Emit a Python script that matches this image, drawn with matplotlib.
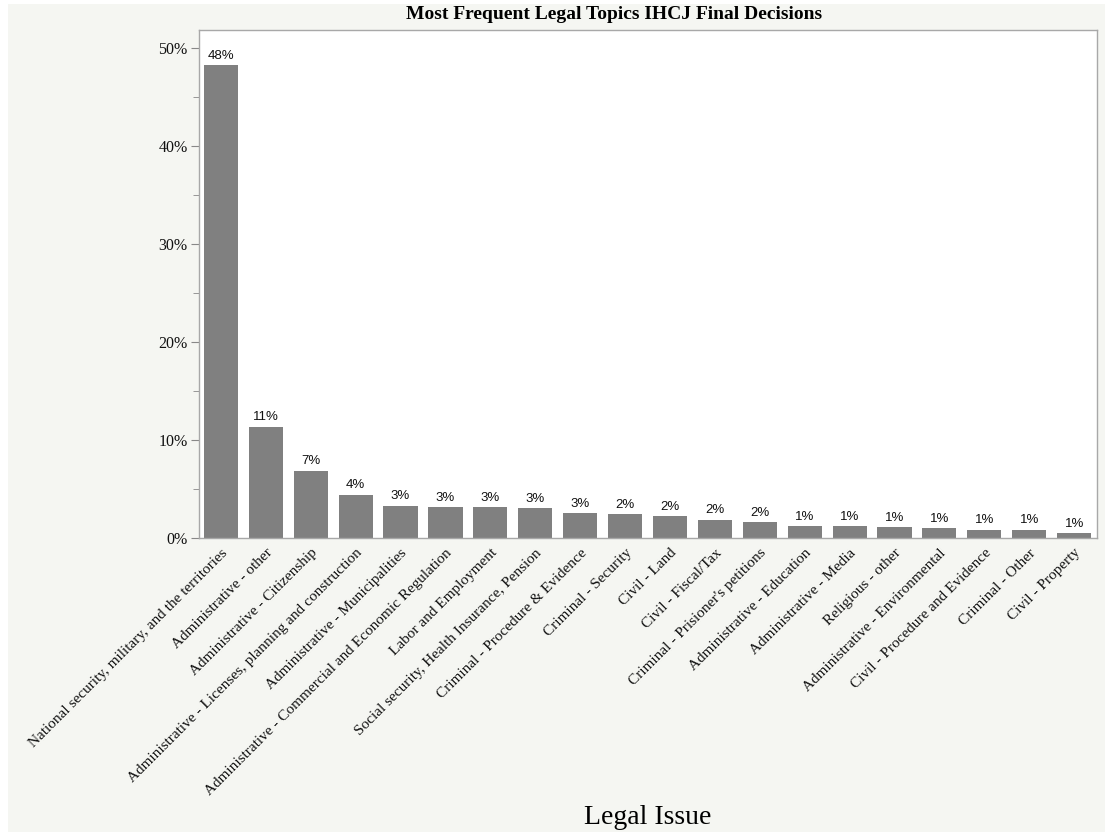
import matplotlib
matplotlib.use("Agg")
import matplotlib.pyplot as plt
import matplotlib.patches as mpatches
from matplotlib.ticker import MultipleLocator, FuncFormatter

# data
issues = [
    "National security, military, and the territories",
    "Administrative - other",
    "Administrative - Citizenship",
    "Administrative - Licenses, planning and construction",
    "Administrative - Municipalities",
    "Administrative - Commercial and Economic Regulation",
    "Labor and Employment",
    "Social security, Health Insurance, Pension",
    "Criminal - Procedure & Evidence",
    "Criminal - Security",
    "Civil - Land",
    "Civil - Fiscal/Tax",
    "Criminal - Prisioner's petitions",
    "Administrative - Education",
    "Administrative - Media",
    "Religious - other",
    "Administrative - Environmental",
    "Civil - Procedure and Evidence",
    "Criminal - Other",
    "Civil - Property",
]
shares = [48.2, 11.35, 6.87, 4.39, 3.27, 3.16, 3.16, 3.06, 2.55, 2.45,
          2.24, 1.84, 1.63, 1.22, 1.22, 1.12, 1.02, 0.82, 0.82, 0.51]

bg = "#f5f6f2"
serif = ["Liberation Serif", "DejaVu Serif"]
sans = ["Liberation Sans", "DejaVu Sans"]

fig = plt.figure(figsize=(11.05, 8.32), dpi=100, facecolor="white")
# light panel behind the graph, thin white margin on left/top
fig.patches.append(mpatches.Rectangle((8 / 1105, 0.0), 1.0, 1 - 4 / 832,
                                      transform=fig.transFigure,
                                      facecolor=bg, edgecolor="none",
                                      zorder=-10))

ax = fig.add_axes([0.180, 0.3534, 0.8128, 0.6105])
ax.set_facecolor("white")

x = range(len(issues))
ax.bar(x, shares, width=0.76, color="#808080", zorder=2)

for xi, v in zip(x, shares):
    ax.text(xi, v + 0.35, f"{round(v):.0f}%", ha="center", va="bottom",
            fontsize=9.5, family=sans, color="#111111")

ax.set_xlim(-0.49, 19.51)
ax.set_ylim(0, 51.8)
ax.yaxis.set_major_locator(MultipleLocator(10))
ax.yaxis.set_minor_locator(MultipleLocator(5))
ax.yaxis.set_major_formatter(FuncFormatter(lambda v, p: f"{v:.0f}%"))
ax.tick_params(axis="y", which="major", length=6, color="#888888",
               labelsize=11.5, labelcolor="#111111", pad=2)
ax.tick_params(axis="y", which="minor", length=4, color="#888888")
for lab in ax.get_yticklabels():
    lab.set_family(serif)

ax.set_xticks(list(x))
ax.set_xticklabels(issues, rotation=45, ha="right", va="top",
                   rotation_mode="anchor", fontsize=11, family=serif,
                   color="#111111")
ax.tick_params(axis="x", length=0, pad=6)

for s in ax.spines.values():
    s.set_color("#a8a8a8")
    s.set_linewidth(1.0)

fig.text(0.5557, 0.983, "Most Frequent Legal Topics IHCJ Final Decisions",
         ha="center", va="center", fontsize=14, fontweight="bold",
         family=serif)
fig.text(0.586, 0.017, "Legal Issue", ha="center", va="center",
         fontsize=20, family=serif)

fig.savefig("out.png", dpi=100, facecolor="white")
